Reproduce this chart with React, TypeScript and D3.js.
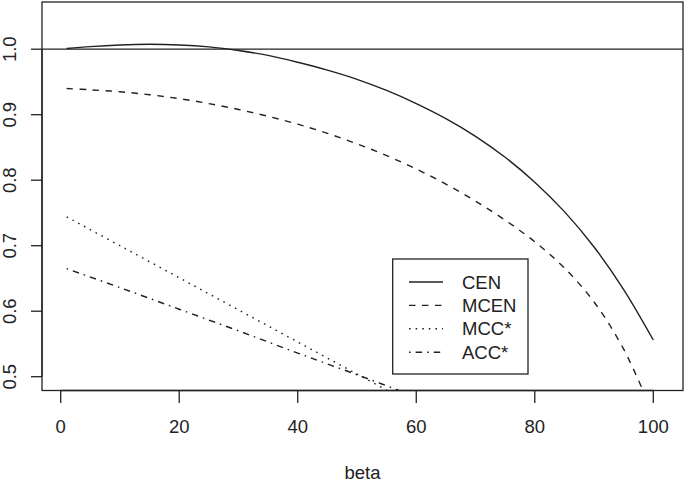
import * as d3 from 'd3';

// beta grid for the two curved series
const beta = [1, 5, 10, 15, 20, 25, 30, 35, 40, 45, 50, 55, 60, 65, 70, 75, 80, 85, 90, 95, 100];
const cen = [1.001, 1.004, 1.0065, 1.0075, 1.0065, 1.0035, 0.998, 0.9905, 0.98, 0.968, 0.954, 0.937,
  0.917, 0.894, 0.867, 0.835, 0.797, 0.752, 0.698, 0.633, 0.556];
const mcen = [0.94, 0.938, 0.935, 0.9305, 0.9245, 0.917, 0.908, 0.8975, 0.8855, 0.8715, 0.8555, 0.8375,
  0.817, 0.794, 0.768, 0.739, 0.706, 0.666, 0.614, 0.542, 0.442];

// the two straight ones leave the plot region around beta 55
const betaShort = [1, 10, 20, 30, 40, 50, 60];
const mcc = [0.744, 0.7, 0.651, 0.602, 0.553, 0.504, 0.455];
const acc = [0.665, 0.636, 0.603, 0.57, 0.536, 0.503, 0.469];

const xTicks = [0, 20, 40, 60, 80, 100];
const yTicks = [0.5, 0.6, 0.7, 0.8, 0.9, 1.0];

const legendLabels = ['CEN', 'MCEN', 'MCC*', 'ACC*'];
const dashes = ['none', '6.5,6.5', '1.6,5', '1.6,5,6.5,5'];

const W = 686;
const H = 483;
const box = { left: 42, right: 683, top: 2, bottom: 390.5 };
const font = '"Liberation Sans", Arial, Helvetica, sans-serif';
const ink = '#222';

export default function App() {
  const x = d3.scaleLinear().domain([0, 100]).range([60.7, 653.3]);
  const y = d3.scaleLinear().domain([0.5, 1.0]).range([376.7, 49.2]);

  const line = d3.line<[number, number]>()
    .x(d => x(d[0]))
    .y(d => y(d[1]))
    .curve(d3.curveCatmullRom);

  const series = [
    { xs: beta, ys: cen },
    { xs: beta, ys: mcen },
    { xs: betaShort, ys: mcc },
    { xs: betaShort, ys: acc },
  ];

  // legend placement (pixels)
  const lg = { x0: 392.7, x1: 528, y0: 259, y1: 374, row0: 282, step: 23.4 };

  return (
    <div style={{ position: 'absolute', left: 0, top: 0 }}>
      <svg width={W} height={H} style={{ display: 'block', background: '#fff' }}>
        <defs>
          <clipPath id="plot">
            <rect x={box.left} y={box.top} width={box.right - box.left} height={box.bottom - box.top} />
          </clipPath>
        </defs>

        <g clipPath="url(#plot)" fill="none" stroke={ink} strokeWidth={1.4}>
          {series.map((s, i) => (
            <path
              key={i}
              d={line(s.xs.map((v, j) => [v, s.ys[j]] as [number, number])) ?? ''}
              strokeDasharray={dashes[i]}
            />
          ))}
          {/* abline at 1 */}
          <line x1={box.left} x2={box.right} y1={y(1)} y2={y(1)} strokeWidth={1.2} />
        </g>

        {/* plot frame */}
        <rect x={box.left} y={box.top} width={box.right - box.left} height={box.bottom - box.top}
          fill="none" stroke={ink} strokeWidth={1.3} />

        {/* x axis */}
        <g stroke={ink} strokeWidth={1.3}>
          <line x1={x(0)} x2={x(100)} y1={box.bottom} y2={box.bottom} />
          {xTicks.map(t => (
            <line key={t} x1={x(t)} x2={x(t)} y1={box.bottom} y2={box.bottom + 12.5} />
          ))}
        </g>
        {xTicks.map(t => (
          <text key={t} x={x(t)} y={433} textAnchor="middle" fontFamily={font} fontSize={18.5} fill={ink}>
            {t}
          </text>
        ))}
        <text x={(box.left + box.right) / 2} y={479} textAnchor="middle" fontFamily={font} fontSize={18.5} fill={ink}>
          beta
        </text>

        {/* y axis */}
        <g stroke={ink} strokeWidth={1.3}>
          <line x1={box.left} x2={box.left} y1={y(0.5)} y2={y(1)} />
          {yTicks.map(t => (
            <line key={t} x1={box.left - 11} x2={box.left} y1={y(t)} y2={y(t)} />
          ))}
        </g>
        {yTicks.map(t => (
          <text key={t} transform={`translate(16,${y(t)}) rotate(-90)`} textAnchor="middle"
            fontFamily={font} fontSize={18.5} fill={ink}>
            {t.toFixed(1)}
          </text>
        ))}

        {/* legend */}
        <rect x={lg.x0} y={lg.y0} width={lg.x1 - lg.x0} height={lg.y1 - lg.y0} fill="#fff" stroke={ink} strokeWidth={1.3} />
        {legendLabels.map((lab, i) => {
          const ry = lg.row0 + i * lg.step;
          return (
            <g key={lab}>
              <line x1={409} x2={443} y1={ry} y2={ry} stroke={ink} strokeWidth={1.4} strokeDasharray={dashes[i]} />
              <text x={462} y={ry + 6.6} fontFamily={font} fontSize={18.5} fill={ink}>{lab}</text>
            </g>
          );
        })}
      </svg>
    </div>
  );
}
